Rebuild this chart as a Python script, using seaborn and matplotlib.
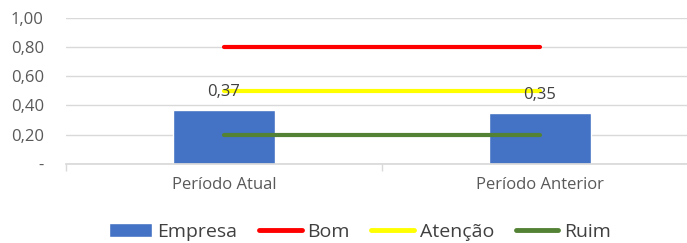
import pandas as pd
import seaborn as sns
import matplotlib.pyplot as plt
from matplotlib.patches import Patch
from matplotlib.lines import Line2D

# chart values
periodos = ["Período Atual", "Período Anterior"]
empresa = [0.37, 0.35]
bom = [0.80, 0.80]
atencao = [0.50, 0.50]
ruim = [0.20, 0.20]

sns.set_theme(style="white")
plt.rcParams["font.family"] = ["Open Sans", "DejaVu Sans"]

cor_barra = "#4472C4"
cores_linhas = {"Bom": "#FF0000", "Atenção": "#FFFF00", "Ruim": "#548235"}

fig = plt.figure(figsize=(6.87, 2.43), dpi=100)
ax = fig.add_axes([0.0961, 0.327, 0.92, 0.5975])

df_barras = pd.DataFrame({"Periodo": periodos, "Empresa": empresa})
sns.barplot(data=df_barras, x="Periodo", y="Empresa", color=cor_barra,
            width=0.32, saturation=1, ax=ax, zorder=2)

# reference lines, drawn from the centre of one category to the other
df_linhas = pd.DataFrame({
    "x": [0, 1] * 3,
    "valor": bom + atencao + ruim,
    "serie": ["Bom"] * 2 + ["Atenção"] * 2 + ["Ruim"] * 2,
})
sns.lineplot(data=df_linhas, x="x", y="valor", hue="serie", palette=cores_linhas,
             linewidth=3, legend=False, ax=ax, zorder=3, solid_capstyle="round")

# data labels
for i, v in enumerate(empresa):
    ax.annotate(f"{v:.2f}".replace(".", ","), (i, v), xytext=(0, 7),
                textcoords="offset points", ha="center", va="bottom",
                fontsize=12, color="#404040", zorder=4)

ax.set_xlim(-0.5, 1.5)
ax.set_ylim(0, 1.0)
ax.set_yticks([0, 0.2, 0.4, 0.6, 0.8, 1.0])
ax.set_yticklabels(["-", "0,20", "0,40", "0,60", "0,80", "1,00"])
ax.grid(axis="y", color="#D9D9D9", linewidth=1, zorder=0)
ax.set_axisbelow(True)
for s in ["top", "right", "left"]:
    ax.spines[s].set_visible(False)
ax.spines["bottom"].set_color("#D9D9D9")
ax.set_xlabel("")
ax.set_ylabel("")
ax.set_xticks([-0.5, 0.5, 1.5], minor=True)
ax.tick_params(axis="x", which="minor", length=5, color="#D9D9D9", width=1, bottom=True)
ax.tick_params(axis="x", which="major", length=0, labelsize=12, labelcolor="#595959", pad=10)
ax.tick_params(axis="y", length=0, labelsize=12, labelcolor="#595959", pad=16)

handles = [Patch(facecolor=cor_barra, label="Empresa")]
for nome, cor in cores_linhas.items():
    handles.append(Line2D([0], [0], color=cor, linewidth=3.5, label=nome,
                          solid_capstyle="round"))
fig.legend(handles=handles, loc="center", bbox_to_anchor=(0.524, 0.045), ncol=4,
           frameon=False, fontsize=14, handlelength=2.2, handleheight=0.7,
           columnspacing=1.1, handletextpad=0.3, labelcolor="#404040")

plt.savefig("out.png", dpi=100)
